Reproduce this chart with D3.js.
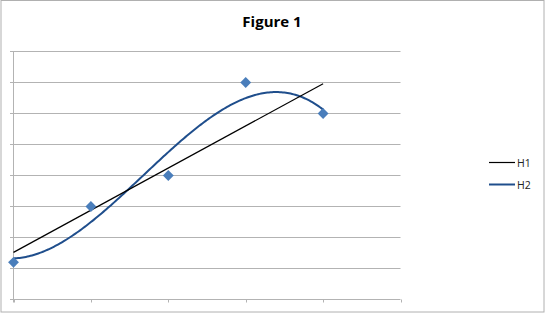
<!DOCTYPE html>
<html>
<head>
<meta charset="utf-8">
<script src="https://cdn.jsdelivr.net/npm/d3@7"></script>
<style>
  body { margin: 0; background: #fff; }
  svg { display: block; font-family: "Open Sans", "Liberation Sans", sans-serif; }
</style>
</head>
<body>
<svg></svg>
<script>
const width = 550
const height = 315

// data
const xValues = [0, 1, 2, 3, 4]
const yValues = [1.2, 3, 4, 7, 6]
const seriesNames = ['H1', 'H2']   // H1 = linear trend, H2 = cubic trend
const yTicks = [0, 1, 2, 3, 4, 5, 6, 7, 8]
const xTicks = [0, 1, 2, 3, 4, 5]
const title = 'Figure 1'

const svg = d3.select('svg').attr('width', width).attr('height', height)

// chart border
svg.append('rect')
    .attr('x', 1).attr('y', 0.5)
    .attr('width', 543).attr('height', 311.5)
    .attr('fill', 'none')
    .attr('stroke', '#b0b0b0')

const x = d3.scaleLinear().domain([0, 5]).range([13.5, 400.5])
const y = d3.scaleLinear().domain([0, 8]).range([299.5, 51.5])

// least squares polynomial fit (Excel trendline)
function polyFit(xs, ys, order) {
    const n = order + 1
    const A = d3.range(n).map(() => new Array(n + 1).fill(0))
    xs.forEach((xv, k) => {
        for (let i = 0; i < n; i++) {
            for (let j = 0; j < n; j++) A[i][j] += Math.pow(xv, i + j)
            A[i][n] += ys[k] * Math.pow(xv, i)
        }
    })
    for (let i = 0; i < n; i++) {
        let p = i
        for (let r = i + 1; r < n; r++) if (Math.abs(A[r][i]) > Math.abs(A[p][i])) p = r
        ;[A[i], A[p]] = [A[p], A[i]]
        for (let r = 0; r < n; r++) {
            if (r === i) continue
            const f = A[r][i] / A[i][i]
            for (let c = i; c <= n; c++) A[r][c] -= f * A[i][c]
        }
    }
    const coef = A.map((row, i) => row[n] / row[i])
    return t => coef.reduce((s, c, i) => s + c * Math.pow(t, i), 0)
}

const linear = polyFit(xValues, yValues, 1)
const cubic = polyFit(xValues, yValues, 3)

// gridlines
svg.append('g')
    .selectAll('line')
    .data(yTicks)
    .enter().append('line')
    .attr('x1', 10).attr('x2', 400.5)
    .attr('y1', d => y(d)).attr('y2', d => y(d))
    .style('stroke', '#b3b3b3')
    .style('stroke-width', '1px')

// y axis line
svg.append('line')
    .attr('x1', 13.5).attr('x2', 13.5)
    .attr('y1', y(8)).attr('y2', y(0) + 3)
    .style('stroke', '#b3b3b3')

// x ticks
svg.append('g')
    .selectAll('line')
    .data(xTicks)
    .enter().append('line')
    .attr('x1', d => Math.round(x(d)) + 0.5).attr('x2', d => Math.round(x(d)) + 0.5)
    .attr('y1', y(0)).attr('y2', y(0) + 3)
    .style('stroke', '#b3b3b3')

const lineGen = d3.line().x(d => x(d[0])).y(d => y(d[1]))
const xs = d3.range(0, 4.0001, 0.02)

svg.append('path')
    .datum(xs.map(t => [t, cubic(t)]))
    .attr('d', lineGen)
    .attr('fill', 'none')
    .style('stroke', '#1f4e8c')
    .style('stroke-width', '2px')

svg.append('path')
    .datum([[0, linear(0)], [4, linear(4)]])
    .attr('d', lineGen)
    .attr('fill', 'none')
    .style('stroke', '#000')
    .style('stroke-width', '1.2px')

// markers
const symbol = d3.symbol().type(d3.symbolDiamond2).size(75)
svg.append('g')
    .selectAll('path')
    .data(xValues.map((d, i) => [d, yValues[i]]))
    .enter().append('path')
    .attr('d', symbol)
    .attr('transform', d => `translate(${x(d[0])},${y(d[1])})`)
    .style('fill', '#4a7ebb')

// title
svg.append('text')
    .attr('x', 272).attr('y', 27)
    .attr('text-anchor', 'middle')
    .style('font-size', '15px')
    .style('font-weight', 'bold')
    .text(title)

// legend
const legendColors = ['#000', '#1f4e8c']
const legend = svg.append('g')
    .selectAll('g')
    .data(seriesNames)
    .enter().append('g')
    .attr('transform', (d, i) => `translate(489,${162.5 + i * 22})`)
legend.append('line')
    .attr('x1', 0).attr('x2', 26)
    .style('stroke', (d, i) => legendColors[i])
    .style('stroke-width', (d, i) => i ? '2px' : '1.2px')
legend.append('text')
    .attr('x', 28).attr('y', 4)
    .style('font-size', '10.5px')
    .style('fill', '#222')
    .text(d => d)
</script>
</body>
</html>
